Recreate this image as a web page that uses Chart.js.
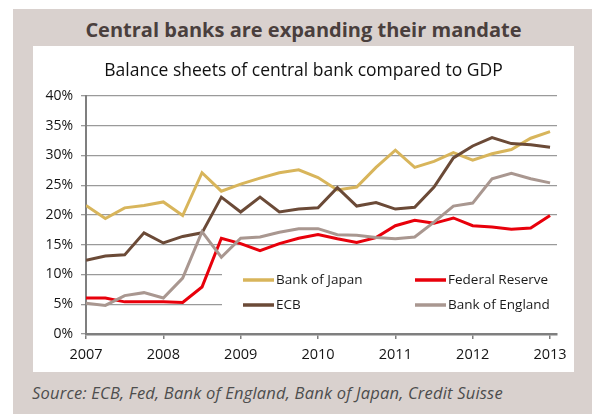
<!DOCTYPE html>
<html>
<head>
<meta charset="utf-8">
<script src="https://cdn.jsdelivr.net/npm/chart.js@4.4.1/dist/chart.umd.min.js"></script>
<style>
  html, body { margin: 0; padding: 0; background: #ffffff; }
  body { width: 592px; height: 414px; position: relative; overflow: hidden; font-family: "Open Sans", sans-serif; }
  #outer { position: absolute; left: 13px; top: 9px; width: 579px; height: 405px; background: #d9d1ce; }
  #title { position: absolute; left: 33px; width: 541px; top: 15px; text-align: center; font-weight: 700; font-size: 20px; color: #4a3f3d; line-height: 30px; }
  #panel { position: absolute; left: 33px; top: 46px; width: 541px; height: 326px; background: #ffffff; }
  #subtitle { position: absolute; left: 0; width: 541px; top: 11px; text-align: center; font-size: 17.5px; color: #111; line-height: 24px; }
  #wrap { position: absolute; left: 0; top: 0; width: 541px; height: 326px; }
  #source { position: absolute; left: 32px; top: 381px; font-style: italic; font-size: 16.5px; letter-spacing: 0.2px; color: #4d4d4d; line-height: 24px; }
</style>
</head>
<body>
<div id="outer"></div>
<div id="title">Central banks are expanding their mandate</div>
<div id="panel">
  <div id="wrap"><canvas id="c" width="541" height="326"></canvas></div>
  <div id="subtitle">Balance sheets of central bank compared to GDP</div>
</div>
<div id="source">Source: ECB, Fed, Bank of England, Bank of Japan, Credit Suisse</div>
<script>
// Quarterly observation dates (decimal years)
const quarters = [2007.00, 2007.25, 2007.50, 2007.75, 2008.00, 2008.25, 2008.50, 2008.75,
                  2009.00, 2009.25, 2009.50, 2009.75, 2010.00, 2010.25, 2010.50, 2010.75,
                  2011.00, 2011.25, 2011.50, 2011.75, 2012.00, 2012.25, 2012.50, 2012.75, 2013.00];
// Balance sheet as % of GDP
const bankOfJapan    = [21.6, 19.4, 21.2, 21.6, 22.2, 19.9, 27.1, 24.0, 25.2, 26.2, 27.1, 27.6, 26.3,
                        24.2, 24.7, 28.0, 30.9, 28.0, 29.0, 30.5, 29.2, 30.3, 31.0, 32.9, 34.0];
const federalReserve = [6.05, 6.05, 5.4, 5.4, 5.4, 5.3, 7.9, 16.1, 15.2, 14.0, 15.2, 16.1, 16.7,
                        16.0, 15.4, 16.2, 18.2, 19.1, 18.6, 19.5, 18.2, 18.0, 17.6, 17.8, 19.9];
const ecb            = [12.4, 13.1, 13.3, 17.0, 15.3, 16.4, 17.0, 23.0, 20.5, 23.0, 20.5, 21.0, 21.2,
                        24.6, 21.5, 22.1, 21.0, 21.3, 24.7, 29.6, 31.6, 33.0, 32.0, 31.8, 31.4];
const bankOfEngland  = [5.15, 4.8, 6.45, 6.95, 6.05, 9.4, 17.2, 12.9, 16.1, 16.3, 17.1, 17.7, 17.7,
                        16.7, 16.6, 16.2, 16.0, 16.3, 18.8, 21.5, 22.0, 26.1, 27.0, 26.1, 25.4];
const yearTicks = [2007, 2008, 2009, 2010, 2011, 2012, 2013];
const seriesNames = ["Bank of Japan", "Federal Reserve", "ECB", "Bank of England"];
const seriesValues = [bankOfJapan, federalReserve, ecb, bankOfEngland];
const seriesColors = ["#d8b55b", "#e8000b", "#6b4a37", "#a99790"];

const datasets = seriesNames.map((name, k) => ({
  label: name,
  data: quarters.map((q, i) => ({ x: q, y: seriesValues[k][i] })),
  borderColor: seriesColors[k],
  backgroundColor: seriesColors[k],
  borderWidth: 3,
  pointRadius: 0,
  tension: 0,
  fill: false
}));
const order = [3, 1, 2, 0];
const orderedDatasets = order.map(i => Object.assign({}, datasets[i], { order: 0 }));

const legendPlugin = {
  id: 'insideLegend',
  beforeDatasetsDraw(chart) {
    const ctx = chart.ctx;
    const a = chart.chartArea;
    ctx.save();
    ctx.fillStyle = '#ffffff';
    ctx.fillRect(a.left + 136, a.top + 164, a.right - a.left - 136, 58);
    ctx.font = '13.5px "Open Sans", sans-serif';
    ctx.textBaseline = 'middle';
    ctx.fillStyle = '#1a1a1a';
    const cols = [a.left + 157, a.left + 329];
    const rows = [a.top + 184, a.top + 209];
    const layout = [[0, 0], [1, 0], [0, 1], [1, 1]];
    seriesNames.forEach((name, k) => {
      const x = cols[layout[k][0]], y = rows[layout[k][1]];
      ctx.strokeStyle = seriesColors[k];
      ctx.lineWidth = 3.5;
      ctx.beginPath();
      ctx.moveTo(x, y);
      ctx.lineTo(x + 31, y);
      ctx.stroke();
      ctx.fillText(name, x + 33, y + 0.5);
    });
    ctx.restore();
  }
};

new Chart(document.getElementById('c'), {
  type: 'line',
  data: { datasets: orderedDatasets },
  plugins: [legendPlugin],
  options: {
    responsive: false,
    animation: false,
    layout: { padding: { top: 50, right: 17, left: 0, bottom: 0 } },
    plugins: { legend: { display: false }, tooltip: { enabled: false }, title: { display: false } },
    scales: {
      x: {
        type: 'linear',
        min: 2007,
        max: 2013.09,
        afterFit: s => { s.height = 38; },
        afterBuildTicks: s => { s.ticks = yearTicks.map(v => ({ value: v })); },
        ticks: {
          includeBounds: false,
          stepSize: 1,
          autoSkip: false,
          maxRotation: 0,
          padding: 7,
          color: '#151515',
          font: { family: '"Open Sans", sans-serif', size: 14.5 },
          callback: v => String(v)
        },
        grid: { drawOnChartArea: false, drawTicks: true, tickLength: 5, color: '#7f7f7f', lineWidth: 1.5 },
        border: { display: true, color: '#7f7f7f', width: 2.5 }
      },
      y: {
        min: 0,
        max: 40,
        afterFit: s => { s.width = 53; },
        ticks: {
          stepSize: 5,
          padding: 8,
          color: '#151515',
          font: { family: '"Open Sans", sans-serif', size: 14 },
          callback: v => v + '%'
        },
        grid: { color: '#9a9a9a', lineWidth: 1.3, tickLength: 5, drawTicks: true },
        border: { display: true, color: '#7f7f7f', width: 2 }
      }
    }
  }
});
</script>
</body>
</html>
